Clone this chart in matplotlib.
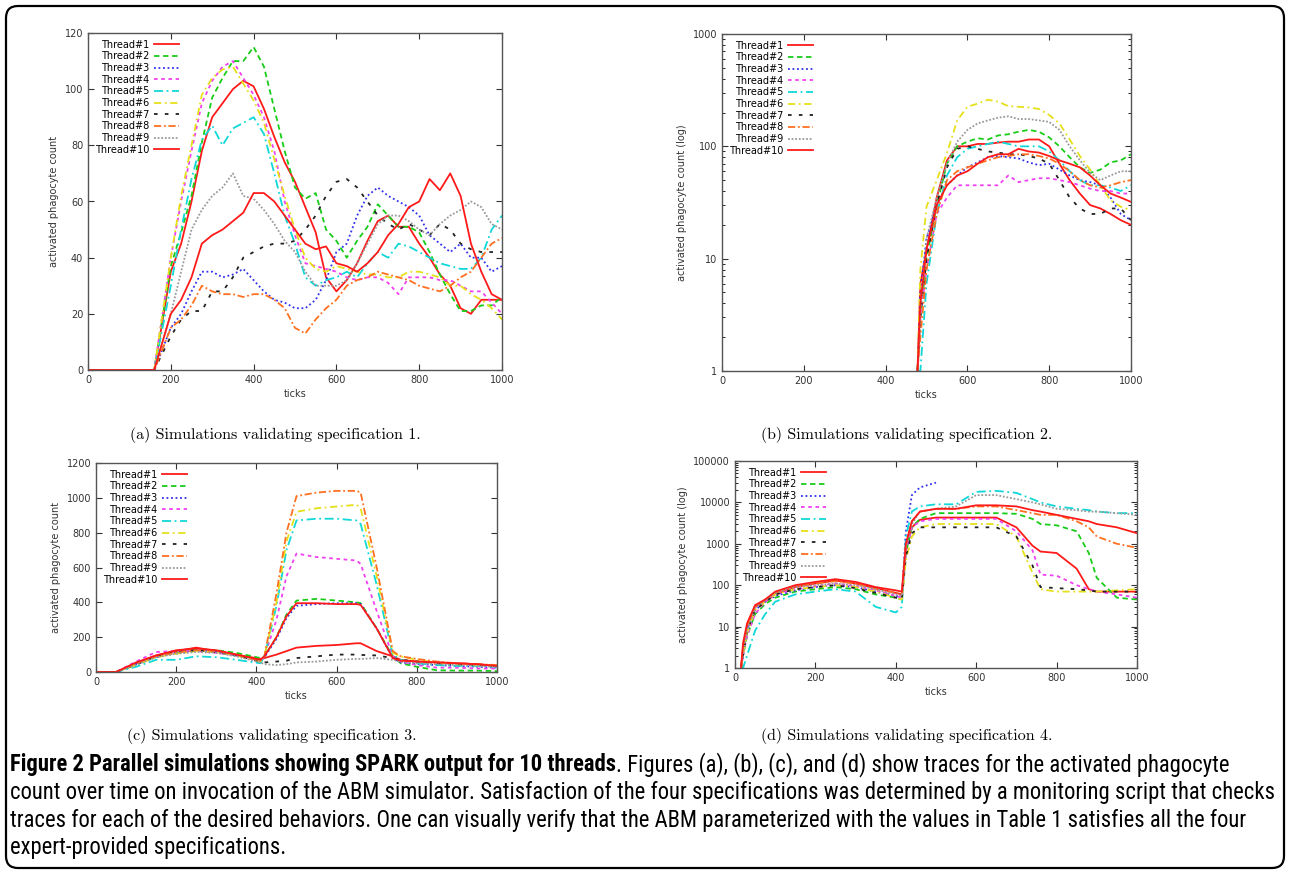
import numpy as np
import matplotlib
matplotlib.use("Agg")
import matplotlib.pyplot as plt
import matplotlib.ticker as mticker
from matplotlib.patches import FancyBboxPatch
from matplotlib import font_manager

nan = np.nan
labels = ["Thread#%d" % i for i in range(1, 11)]

# --- (a) specification 1 ---
ticks_a = [0, 160, 200, 225, 250, 275, 300, 325, 350, 375, 400, 425, 450, 475, 500, 525, 550,
           575, 600, 625, 650, 675, 700, 725, 750, 775, 800, 825, 850, 875, 900, 925, 950, 975, 1000]
a_t1 = [0, 0, 35, 45, 60, 78, 90, 95, 100, 103, 101, 93, 83, 74, 67, 58, 49, 33, 28, 32, 38, 46, 53, 55, 51, 51, 45, 40, 34, 30, 22, 20, 25, 25, 25]
a_t2 = [0, 0, 37, 49, 62, 81, 97, 104, 110, 110, 115, 108, 93, 78, 65, 61, 63, 50, 46, 40, 46, 51, 59, 55, 51, 51, 49, 42, 34, 27, 21, 21, 23, 23, 26]
a_t3 = [0, 0, 15, 20, 28, 35, 35, 33, 34, 36, 32, 28, 25, 24, 22, 22, 25, 32, 42, 45, 55, 62, 65, 62, 60, 58, 55, 48, 45, 42, 45, 40, 40, 35, 37]
a_t4 = [0, 0, 40, 60, 78, 95, 103, 108, 110, 104, 98, 90, 78, 60, 48, 38, 37, 36, 35, 33, 32, 33, 33, 31, 27, 33, 33, 33, 32, 32, 30, 28, 28, 24, 20]
a_t5 = [0, 0, 30, 50, 68, 82, 87, 80, 86, 88, 90, 84, 70, 55, 45, 33, 30, 32, 33, 35, 33, 38, 42, 40, 45, 44, 42, 40, 38, 37, 36, 36, 40, 50, 55]
a_t6 = [0, 0, 40, 62, 80, 98, 104, 107, 108, 102, 96, 88, 75, 62, 50, 40, 36, 35, 37, 36, 35, 34, 34, 33, 33, 35, 35, 34, 33, 30, 30, 27, 25, 22, 18]
a_t7 = [0, 0, 12, 18, 21, 21, 28, 28, 33, 40, 42, 44, 45, 45, 46, 50, 55, 62, 67, 68, 65, 60, 55, 52, 50, 52, 50, 48, 52, 50, 45, 43, 42, 42, 42]
a_t8 = [0, 0, 15, 18, 23, 30, 28, 27, 27, 26, 27, 27, 25, 22, 15, 13, 18, 22, 25, 30, 32, 33, 35, 34, 33, 32, 30, 29, 28, 30, 33, 35, 40, 45, 47]
a_t9 = [0, 0, 20, 35, 50, 57, 62, 65, 70, 62, 61, 57, 52, 46, 42, 35, 30, 30, 30, 32, 38, 45, 52, 55, 55, 53, 50, 48, 52, 55, 57, 60, 58, 52, 50]
a_t10 = [0, 0, 20, 25, 33, 45, 48, 50, 53, 56, 63, 63, 60, 55, 50, 45, 43, 44, 38, 37, 35, 38, 42, 48, 52, 58, 60, 68, 64, 70, 62, 45, 35, 27, 25]

# --- (b) specification 2 (log) ---
ticks_b = [478, 485, 500, 525, 550, 575, 600, 625, 650, 675, 700, 725, 750, 775, 800, 825, 850, 875, 900, 925, 950, 975, 1000]
b_t1 = [1, 6, 12, 35, 75, 100, 100, 105, 105, 108, 110, 110, 115, 115, 100, 70, 50, 38, 30, 28, 25, 22, 20]
b_t2 = [1, 3, 10, 30, 70, 100, 110, 118, 115, 125, 128, 135, 140, 135, 120, 100, 80, 65, 58, 62, 72, 75, 85]
b_t3 = [1, 5, 15, 30, 45, 55, 65, 72, 80, 82, 80, 78, 72, 68, 70, 62, 55, 50, 48, 45, 35, 25, 22]
b_t4 = [1, 3, 8, 25, 35, 45, 45, 45, 45, 45, 55, 48, 50, 52, 52, 50, 48, 45, 42, 40, 40, 38, 38]
b_t5 = [1, 1, 6, 25, 55, 80, 95, 100, 105, 110, 105, 100, 100, 100, 90, 75, 60, 50, 45, 45, 43, 40, 45]
b_t6 = [1, 8, 29, 50, 87, 170, 225, 240, 260, 250, 228, 225, 222, 215, 190, 160, 115, 82, 62, 45, 33, 29, 27]
b_t7 = [1, 3, 10, 30, 65, 95, 100, 95, 90, 88, 85, 85, 82, 78, 70, 50, 35, 28, 25, 25, 28, 28, 22]
b_t8 = [1, 2, 8, 25, 50, 60, 65, 70, 75, 80, 82, 85, 85, 82, 78, 70, 60, 50, 45, 43, 45, 48, 50]
b_t9 = [1, 3, 15, 35, 70, 110, 140, 160, 170, 180, 185, 175, 175, 170, 165, 140, 100, 75, 58, 50, 55, 60, 60]
b_t10 = [1, 4, 12, 30, 45, 55, 60, 70, 80, 85, 85, 95, 90, 88, 82, 75, 70, 65, 55, 45, 38, 35, 32]

# --- (c) specification 3 ---
ticks_c = [0, 50, 100, 150, 200, 250, 300, 350, 410, 420, 450, 475, 500, 550, 600, 650, 660,
           700, 740, 760, 800, 850, 900, 950, 1000]
c_t1 = [0, 0, 50, 95, 120, 140, 120, 100, 75, 80, 100, 120, 140, 150, 155, 165, 165, 120, 90, 70, 60, 55, 50, 45, 35]
c_t2 = [0, 0, 45, 90, 110, 130, 125, 110, 80, 90, 200, 330, 410, 420, 410, 400, 395, 250, 90, 50, 30, 10, 8, 8, 5]
c_t3 = [0, 0, 45, 85, 110, 125, 115, 95, 65, 85, 190, 310, 380, 390, 395, 395, 390, 250, 80, 55, 45, 40, 35, 30, 25]
c_t4 = [0, 0, 60, 115, 120, 120, 110, 95, 60, 90, 300, 550, 680, 660, 650, 640, 620, 350, 90, 60, 40, 25, 25, 20, 20]
c_t5 = [0, 0, 30, 70, 70, 90, 85, 70, 50, 90, 380, 700, 870, 880, 880, 870, 850, 500, 100, 70, 50, 40, 35, 35, 30]
c_t6 = [0, 0, 40, 85, 105, 120, 115, 95, 60, 90, 400, 750, 920, 940, 950, 960, 940, 550, 110, 90, 70, 55, 45, 40, 35]
c_t7 = [0, 0, 45, 90, 115, 125, 115, 95, 60, 55, 60, 65, 80, 90, 100, 100, 98, 95, 80, 70, 60, 50, 45, 40, 35]
c_t8 = [0, 0, 50, 90, 110, 125, 120, 100, 65, 90, 450, 800, 1010, 1030, 1040, 1040, 1030, 600, 120, 90, 75, 60, 50, 45, 40]
c_t9 = [0, 0, 40, 85, 105, 115, 110, 90, 55, 45, 40, 45, 55, 60, 70, 75, 75, 80, 70, 60, 50, 45, 40, 35, 30]
c_t10 = [0, 0, 55, 95, 125, 135, 125, 100, 70, 90, 200, 320, 395, 395, 390, 390, 385, 250, 80, 65, 60, 55, 50, 45, 35]

# --- (d) specification 4 (log) ---
ticks_d = [15, 20, 30, 50, 75, 100, 150, 200, 250, 300, 350, 400, 415, 425, 440, 460, 500, 550,
           600, 650, 700, 740, 760, 800, 850, 880, 900, 950, 1000]
d_t1 = [1, 3, 10, 30, 40, 60, 90, 110, 130, 110, 85, 65, 60, 800, 2500, 3800, 4300, 4300, 4300, 4300, 2500, 900, 650, 600, 250, 80, 70, 70, 70]
d_t2 = [1, 2, 6, 20, 35, 50, 70, 80, 90, 80, 60, 50, 45, 600, 2500, 4000, 5500, 5500, 5500, 5500, 5300, 4000, 3000, 2800, 2000, 600, 150, 50, 45]
d_t3 = [1, 2, 8, 25, 40, 55, 75, 90, 100, 90, 70, 55, 50, 2000, 15000, 23000, 30000, nan, nan, nan, nan, nan, nan, nan, nan, nan, nan, nan, nan]
d_t4 = [1, 2, 6, 20, 40, 60, 80, 95, 110, 95, 75, 55, 50, 600, 2500, 3500, 4000, 4000, 4000, 4000, 2000, 700, 180, 170, 100, 80, 70, 60, 50]
d_t5 = [1, 1, 2, 8, 20, 40, 60, 70, 80, 70, 30, 22, 30, 1500, 6000, 8000, 9000, 9000, 18000, 19000, 17000, 12000, 10000, 8000, 7000, 6500, 6000, 5500, 5500]
d_t6 = [1, 2, 7, 25, 40, 60, 80, 90, 100, 90, 70, 50, 45, 400, 1500, 2500, 3000, 3000, 3000, 3000, 1500, 200, 80, 70, 70, 70, 70, 75, 80]
d_t7 = [1, 2, 8, 25, 40, 60, 80, 90, 100, 85, 65, 50, 45, 500, 1800, 2500, 2500, 2500, 2500, 2500, 1500, 300, 90, 85, 80, 75, 70, 70, 70]
d_t8 = [1, 3, 10, 30, 45, 65, 95, 110, 125, 110, 80, 65, 60, 900, 3500, 6000, 7000, 7000, 8000, 8000, 6500, 5500, 5000, 5000, 3500, 2500, 1500, 1000, 800]
d_t9 = [1, 2, 8, 28, 42, 65, 90, 100, 110, 100, 80, 60, 55, 800, 3000, 6000, 7000, 8000, 15000, 15000, 12000, 10000, 9000, 7000, 6500, 6000, 6000, 5500, 5000]
d_t10 = [1, 4, 12, 33, 45, 70, 100, 120, 140, 120, 90, 75, 70, 1000, 3500, 6000, 7000, 7000, 8500, 8500, 8000, 6500, 6000, 5000, 4000, 3500, 3000, 2500, 1800]

# gnuplot-like line types
colors = ['#ff1a1a', '#19cc19', '#3030ee', '#f040f0', '#10d8d8',
          '#e6e01a', '#222222', '#ff7020', '#9a9a9a', '#ff1a1a']
dashes = ['-', (0, (3, 2)), (0, (1, 1.5)), (0, (2, 2)), (0, (5, 2, 1, 2)),
          (0, (4, 2, 1, 2)), (0, (2, 4)), (0, (4, 1.5, 1, 1.5)), (0, (1, 1)), '-']

W, H = 1290, 875
fig = plt.figure(figsize=(W / 100, H / 100), dpi=100)


def make_axes(l, r, t, b):
    return fig.add_axes([l / W, 1 - b / H, (r - l) / W, (b - t) / H])


def draw_panel(ax, x, series, ylabel, logy=False):
    for i, y in enumerate(series):
        ax.plot(x, y, color=colors[i], linestyle=dashes[i], lw=1.3, label=labels[i])
    ax.set_xlim(0, 1000)
    ax.set_xticks([0, 200, 400, 600, 800, 1000])
    if logy:
        ax.set_yscale('log')
        ax.yaxis.set_major_formatter(mticker.FuncFormatter(lambda v, p: '%g' % v))
        ax.yaxis.set_minor_formatter(mticker.NullFormatter())
    ax.tick_params(direction='in', top=True, right=True, labelsize=7, length=4, width=0.8,
                   colors='#333333')
    ax.tick_params(which='minor', direction='in', right=True, length=2)
    for s in ax.spines.values():
        s.set_color('#555555')
        s.set_linewidth(1.0)
    ax.set_xlabel('ticks', fontsize=7, color='#333333', labelpad=3)
    ax.set_ylabel(ylabel, fontsize=7, color='#333333', labelpad=4)
    ax.legend(loc='upper left', markerfirst=False, frameon=False, fontsize=7,
              handlelength=2.6, labelspacing=0.17, handletextpad=0.5,
              borderaxespad=0.4, borderpad=0.3)


ax_a = make_axes(88, 502, 33, 370)
draw_panel(ax_a, ticks_a, [a_t1, a_t2, a_t3, a_t4, a_t5, a_t6, a_t7, a_t8, a_t9, a_t10],
           'activated phagocyte count')
ax_a.set_ylim(0, 120)
ax_a.set_yticks(range(0, 121, 20))

ax_b = make_axes(722, 1131, 34, 371)
draw_panel(ax_b, ticks_b, [b_t1, b_t2, b_t3, b_t4, b_t5, b_t6, b_t7, b_t8, b_t9, b_t10],
           'activated phagocyte count (log)', logy=True)
ax_b.set_ylim(1, 1000)

ax_c = make_axes(96, 497, 463, 672)
draw_panel(ax_c, ticks_c, [c_t1, c_t2, c_t3, c_t4, c_t5, c_t6, c_t7, c_t8, c_t9, c_t10],
           'activated phagocyte count')
ax_c.set_ylim(0, 1200)
ax_c.set_yticks(range(0, 1201, 200))

ax_d = make_axes(735, 1137, 461, 668)
draw_panel(ax_d, ticks_d, [d_t1, d_t2, d_t3, d_t4, d_t5, d_t6, d_t7, d_t8, d_t9, d_t10],
           'activated phagocyte count (log)', logy=True)
ax_d.set_ylim(1, 100000)

# sub-captions
sub = dict(fontsize=11.5, family='cmr10', ha='center', va='center')
fig.text(275 / W, 1 - 435 / H, '(a) Simulations validating specification 1.', **sub)
fig.text(907 / W, 1 - 435 / H, '(b) Simulations validating specification 2.', **sub)
fig.text(272 / W, 1 - 736 / H, '(c) Simulations validating specification 3.', **sub)
fig.text(907 / W, 1 - 736 / H, '(d) Simulations validating specification 4.', **sub)

# figure caption
names = {f.name for f in font_manager.fontManager.ttflist}
cap_font = ['Liberation Sans Narrow'] if 'Liberation Sans Narrow' in names else ['Roboto Condensed', 'DejaVu Sans']
bold_part = 'Figure 2 Parallel simulations showing SPARK output for 10 threads'
line1 = '. Figures (a), (b), (c), and (d) show traces for the activated phagocyte'
rest_lines = ['count over time on invocation of the ABM simulator. Satisfaction of the four specifications was determined by a monitoring script that checks',
              'traces for each of the desired behaviors. One can visually verify that the ABM parameterized with the values in Table 1 satisfies all the four',
              'expert-provided specifications.']

fs = 13
x0 = 10
renderer = fig.canvas.get_renderer()
probe = fig.text(x0 / W, 0.5, rest_lines[0], fontsize=fs, family=cap_font)
scale = 1258 / probe.get_window_extent(renderer).width
probe.remove()
fs = fs * scale

tb = fig.text(x0 / W, 1 - 765 / H, bold_part, fontsize=fs, weight='bold', family=cap_font, va='center')
bb = tb.get_window_extent(renderer)
fig.text(bb.x1 / W, 1 - 765 / H, line1, fontsize=fs, family=cap_font, va='center')
for k, s in enumerate(rest_lines):
    fig.text(x0 / W, 1 - (793 + 27.3 * k) / H, s, fontsize=fs, family=cap_font, va='center')

# rounded frame
frame = FancyBboxPatch((0.06, 0.07), 12.78, 8.62, boxstyle='round,pad=0,rounding_size=0.12',
                       transform=fig.dpi_scale_trans, fill=False, lw=1.6, ec='black')
fig.patches.append(frame)

fig.savefig('out.png', dpi=100)
